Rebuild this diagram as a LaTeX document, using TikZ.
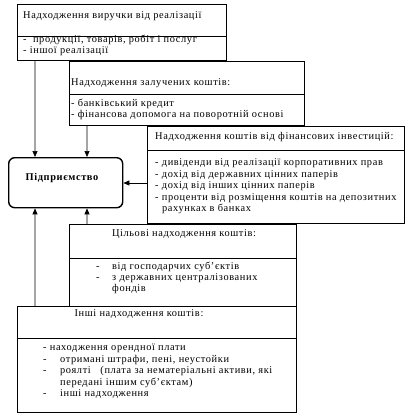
\documentclass[tikz,border=0pt]{standalone}
\usepackage{fontspec}
\setmainfont{Liberation Serif}[LetterSpace=6]
\usetikzlibrary{arrows.meta}
\tikzset{
  box/.style={draw=black, line width=0.8bp, anchor=north west, inner sep=0pt, fill=white},
  mainbox/.style={draw=black, line width=1.4bp, rounded corners=6bp, anchor=north west, inner sep=0pt},
  txt/.style={anchor=mid west, inner sep=0pt, font=\fontsize{10.4}{11}\selectfont},
  ctxt/.style={anchor=mid, inner sep=0pt, font=\fontsize{10.4}{11}\selectfont},
  divider/.style={line width=0.8bp},
  arr/.style={line width=0.6bp, -{Triangle[length=6bp,width=5bp]}}
}
\begin{document}
\begin{tikzpicture}[x=1bp,y=-1bp]
\useasboundingbox (0,0) rectangle (412,414);
% main node
\node[mainbox, minimum width=114bp, minimum height=50bp] (pid) at (8,157) {};
\node[anchor=mid, inner sep=0pt, font=\fontsize{10.4}{11}\selectfont\bfseries] (pidt) at (62,178) {Підприємство};
% box 1
\node[box, minimum width=209bp, minimum height=56bp] (b1) at (17,4) {};
\draw[divider] (17,36) -- (226,36);
\node[txt] (b1t) at (23,16) {Надходження виручки від реалізації};
\node[txt] (b1a) at (23,40.5) {-\ \ продукції, товарів, робіт і послуг};
\node[txt] (b1b) at (23,51) {- іншої реалізації};
% box 2
\node[box, minimum width=235bp, minimum height=64bp] (b2) at (69,61) {};
\draw[divider] (69,94) -- (304,94);
\node[txt] (b2t) at (71,83) {Надходження залучених коштів:};
\node[txt] (b2a) at (71,104) {- банківський кредит};
\node[txt] (b2b) at (71,115) {- фінансова допомога на поворотній основі};
% box 3
\node[box, minimum width=257bp, minimum height=97bp] (b3) at (147,126) {};
\draw[divider] (147,150) -- (404,150);
\node[txt] (b3t) at (155,137) {Надходження коштів від фінансових інвестицій:};
\node[txt] (b3a) at (155,163) {- дивіденди від реалізації корпоративних прав};
\node[txt] (b3b) at (155,175) {- дохід від державних цінних паперів};
\node[txt] (b3c) at (155,186) {- дохід від інших цінних паперів};
\node[txt] (b3d) at (155,198) {- проценти від розміщення коштів на депозитних};
\node[txt] (b3e) at (162,209) {рахунках в банках};
% box 4
\node[box, minimum width=227bp, minimum height=82bp] (b4) at (69,224) {};
\draw[divider] (69,258) -- (296,258);
\node[ctxt] (b4t) at (184,234) {Цільові надходження коштів:};
\node[txt] (b4d1) at (96,267) {-};
\node[txt] (b4a) at (112,267) {від господарчих суб’єктів};
\node[txt] (b4d2) at (96,278) {-};
\node[txt] (b4b) at (112,278) {з державних централізованих};
\node[txt] (b4c) at (112,289) {фондів};
% box 5
\node[box, minimum width=279bp, minimum height=106bp] (b5) at (17,306) {};
\draw[divider] (17,338) -- (296,338);
\node[ctxt] (b5t) at (139,314) {Інші надходження коштів:};
\node[txt] (b5a) at (43,348) {- находження орендної плати};
\node[txt] (b5d2) at (43,360) {-};
\node[txt] (b5b) at (60,360) {отримані штрафи, пені, неустойки};
\node[txt] (b5d3) at (43,371) {-};
\node[txt] (b5c) at (60,371) {роялті \ \ (плата за нематеріальні активи, які};
\node[txt] (b5e) at (60,383) {передані іншим суб’єктам)};
\node[txt] (b5d4) at (43,394) {-};
\node[txt] (b5f) at (60,394) {інші надходження};
% arrows
\draw[arr] ([xshift=18bp]b1.south west) -- ([xshift=27bp]pid.north west);
\draw[arr] ([xshift=18bp]b2.south west) -- ([xshift=79bp]pid.north west);
\draw[arr] (b3.west |- 0,183) -- (pid.east |- 0,183);
\draw[arr] ([xshift=18bp]b4.north west) -- ([xshift=79bp]pid.south west);
\draw[arr] ([xshift=18bp]b5.north west) -- ([xshift=27bp]pid.south west);
\end{tikzpicture}
\end{document}
